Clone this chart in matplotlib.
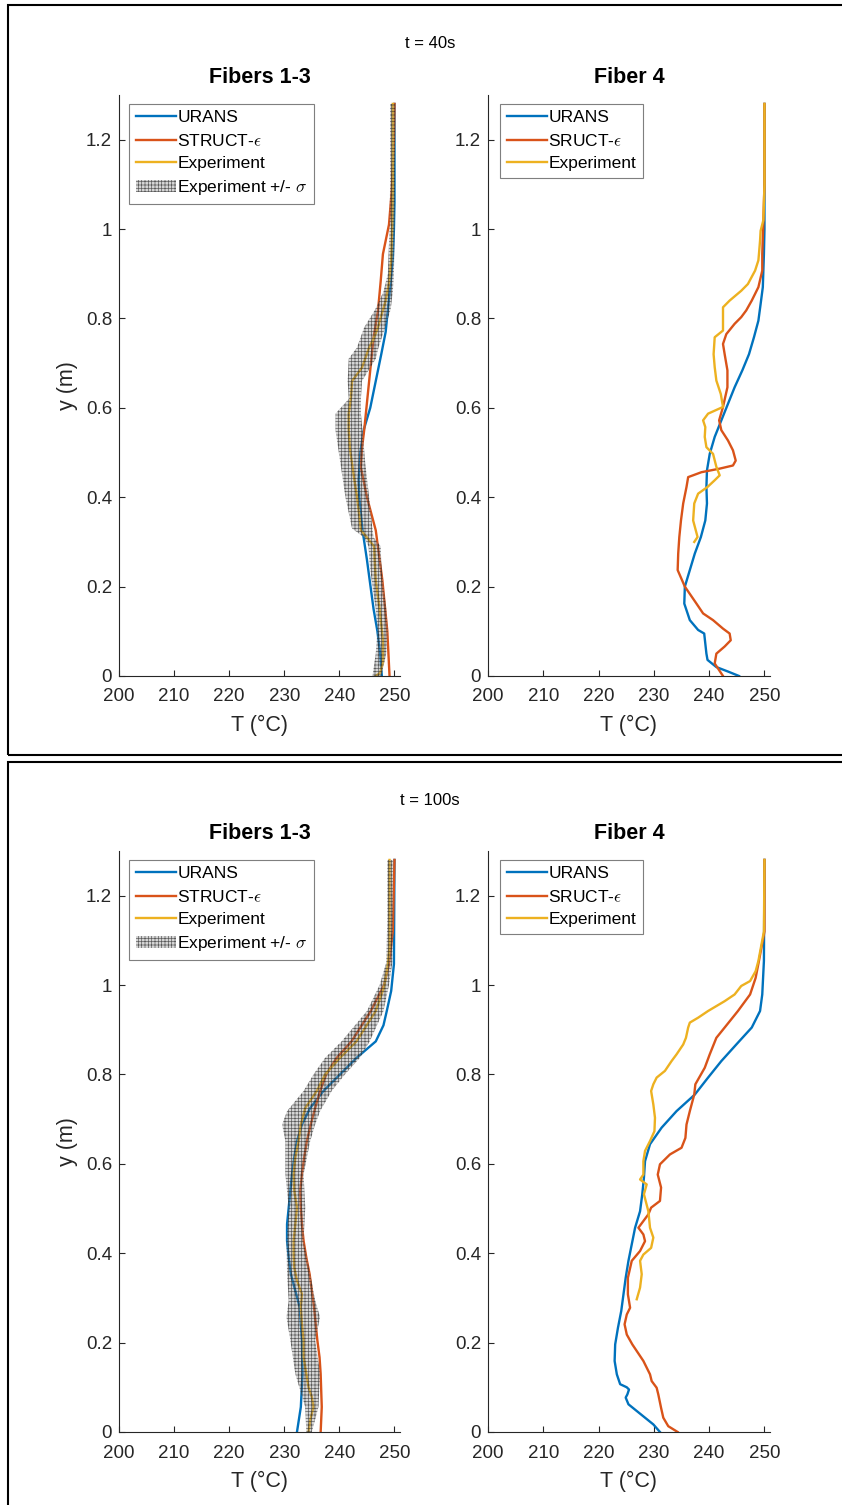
import numpy as np
import matplotlib
matplotlib.use("Agg")
import matplotlib.pyplot as plt
from matplotlib.patches import Rectangle, Patch
from matplotlib.lines import Line2D

plt.rcParams["font.family"] = ["Liberation Sans", "DejaVu Sans"]
plt.rcParams["mathtext.fontset"] = "cm"
plt.rcParams["hatch.linewidth"] = 0.5

BLUE, ORANGE, YELLOW = "#0072BD", "#D95319", "#EDB120"
AXC = "#262626"

# ---- t = 40 s, fibers 1-3 ----
Y_URANS_40A = [0.0, 0.05, 0.1, 0.15, 0.214, 0.26, 0.326, 0.40, 0.44, 0.5, 0.55, 0.6,
               0.66, 0.72, 0.77, 0.82, 0.88, 0.935, 1.0, 1.06, 1.28]
T_URANS_40A = [247.7, 247.4, 246.9, 246.2, 245.5, 245.0, 244.2, 243.6, 243.5, 243.8, 244.4, 245.6,
               246.6, 247.6, 248.4, 248.8, 249.3, 249.7, 249.9, 250.0, 250.0]
Y_STRUCT_40A = [0.0, 0.1, 0.214, 0.326, 0.40, 0.467, 0.51, 0.55, 0.66, 0.757, 0.817,
                0.884, 0.944, 1.01, 1.085, 1.2, 1.28]
T_STRUCT_40A = [249.1, 248.7, 247.8, 246.6, 245.0, 243.9, 244.1, 244.5, 245.4, 246.2, 247.0,
                247.5, 247.9, 249.0, 249.5, 249.9, 250.0]
Y_EXP_40A = [0.0, 0.007, 0.03, 0.08, 0.15, 0.214, 0.26, 0.29, 0.31, 0.326, 0.36, 0.40, 0.44,
             0.475, 0.51, 0.55, 0.587, 0.623, 0.66, 0.69, 0.735, 0.757, 0.78, 0.81, 0.84,
             0.88, 0.93, 1.01, 1.1, 1.2, 1.28]
T_EXP_40A = [246.6, 247.4, 247.9, 247.9, 247.3, 246.6, 246.4, 246.3, 245.0, 243.9, 243.6, 243.2,
             242.7, 242.3, 241.9, 241.7, 241.7, 242.1, 242.3, 244.1, 245.4, 246.3, 247.0, 247.7,
             248.4, 249.0, 249.4, 249.6, 249.7, 249.7, 249.7]
Y_BAND_40A = [0.0, 0.05, 0.1, 0.15, 0.2, 0.25, 0.29, 0.31, 0.33, 0.40, 0.475, 0.55, 0.587,
              0.62, 0.66, 0.71, 0.735, 0.78, 0.82, 0.86, 0.9, 1.0, 1.1, 1.2, 1.28]
LO_BAND_40A = [246.0, 246.6, 246.9, 246.6, 246.0, 245.5, 245.3, 244.5, 242.3, 241.1, 240.2, 239.3,
               239.3, 241.7, 241.5, 241.7, 243.2, 244.5, 246.5, 248.0, 248.8, 249.1, 249.2, 249.2, 249.2]
HI_BAND_40A = [247.6, 248.5, 248.8, 248.5, 248.0, 247.6, 247.5, 246.2, 246.0, 245.4, 244.7, 244.2,
               243.9, 243.9, 244.1, 246.6, 247.1, 248.3, 249.3, 249.7, 249.9, 250.0, 250.1, 250.1, 250.1]

# ---- t = 40 s, fiber 4 ----
Y_URANS_40B = [0.0, 0.01, 0.02, 0.036, 0.05, 0.095, 0.103, 0.125, 0.162, 0.2, 0.237, 0.274,
               0.311, 0.348, 0.386, 0.423, 0.46, 0.497, 0.535, 0.572, 0.609, 0.646, 0.684,
               0.72, 0.758, 0.795, 0.832, 0.87, 0.944, 1.0, 1.28]
T_URANS_40B = [245.4, 243.4, 241.3, 239.7, 239.5, 239.1, 238.0, 236.5, 235.5, 235.6, 236.5, 237.4,
               238.5, 239.3, 239.6, 239.5, 239.6, 240.1, 241.0, 242.2, 243.4, 244.6, 246.0,
               247.2, 248.1, 248.9, 249.3, 249.7, 249.9, 250.0, 250.0]
Y_STRUCT_40B = [0.0, 0.028, 0.05, 0.066, 0.08, 0.095, 0.106, 0.125, 0.14, 0.162, 0.2, 0.237,
                0.274, 0.311, 0.348, 0.386, 0.423, 0.445, 0.456, 0.464, 0.471, 0.482, 0.505,
                0.527, 0.55, 0.572, 0.602, 0.646, 0.684, 0.72, 0.743, 0.765, 0.788, 0.803,
                0.818, 0.84, 0.87, 0.907, 0.944, 0.981, 1.019, 1.1, 1.28]
T_STRUCT_40B = [242.5, 241.0, 241.3, 242.8, 243.9, 243.7, 242.5, 240.7, 238.9, 237.7, 235.6, 234.3,
                234.4, 234.6, 234.9, 235.3, 235.9, 236.2, 238.6, 241.9, 244.3, 244.8, 244.3,
                243.4, 242.2, 241.8, 242.5, 243.3, 243.3, 242.8, 242.5, 243.1, 244.6, 245.8,
                246.7, 247.7, 248.9, 249.6, 249.6, 249.7, 249.8, 250.0, 250.0]
Y_EXP_40B = [0.3, 0.311, 0.348, 0.386, 0.408, 0.423, 0.438, 0.449, 0.468, 0.497, 0.512, 0.535,
             0.557, 0.572, 0.587, 0.602, 0.631, 0.661, 0.691, 0.72, 0.758, 0.773, 0.795, 0.825,
             0.84, 0.862, 0.877, 0.907, 0.93, 0.944, 0.974, 0.996, 1.02, 1.1, 1.28]
T_EXP_40B = [237.3, 237.9, 237.1, 237.3, 238.0, 239.7, 241.0, 241.9, 241.3, 240.7, 239.5, 239.2,
             239.3, 238.9, 239.8, 242.5, 242.1, 241.3, 241.0, 240.8, 241.0, 242.5, 242.5, 242.5,
             243.7, 245.8, 247.0, 248.3, 248.9, 249.0, 249.2, 249.3, 249.8, 250.0, 250.0]

# ---- t = 100 s, fibers 1-3 ----
Y_URANS_100A = [0.0, 0.056, 0.13, 0.205, 0.279, 0.316, 0.353, 0.39, 0.428, 0.465, 0.502, 0.54,
                0.577, 0.614, 0.651, 0.688, 0.725, 0.763, 0.8, 0.837, 0.874, 0.91, 0.942,
                0.987, 1.047, 1.28]
T_URANS_100A = [232.3, 233.0, 233.3, 233.2, 232.8, 232.0, 231.2, 230.8, 230.5, 230.5, 230.8, 231.1,
                231.4, 231.8, 232.3, 233.2, 234.7, 237.1, 240.1, 243.1, 246.6, 248.0, 248.6,
                249.4, 249.9, 250.0]
Y_STRUCT_100A = [0.0, 0.056, 0.13, 0.167, 0.205, 0.279, 0.353, 0.39, 0.428, 0.465, 0.502, 0.54,
                 0.577, 0.614, 0.651, 0.688, 0.725, 0.763, 0.8, 0.837, 0.874, 0.942, 1.0,
                 1.047, 1.12, 1.28]
T_STRUCT_100A = [236.6, 236.8, 236.6, 236.4, 236.0, 235.4, 234.6, 234.0, 233.5, 233.2, 233.0, 232.9,
                 233.2, 233.6, 234.1, 234.8, 235.6, 236.5, 237.6, 239.5, 242.2, 245.7, 248.1,
                 249.0, 249.7, 250.0]
Y_EXP_100A = [0.0, 0.026, 0.056, 0.078, 0.1, 0.13, 0.167, 0.205, 0.242, 0.279, 0.309, 0.339,
              0.368, 0.398, 0.428, 0.465, 0.502, 0.54, 0.577, 0.614, 0.651, 0.688, 0.725,
              0.763, 0.8, 0.837, 0.874, 0.942, 0.995, 1.047, 1.085, 1.28]
T_EXP_100A = [234.4, 234.7, 235.3, 235.0, 234.4, 234.0, 233.5, 233.5, 233.2, 233.0, 233.2, 232.3,
              231.8, 231.7, 231.7, 232.0, 232.3, 231.8, 231.7, 232.0, 232.6, 233.0, 233.8,
              235.9, 237.4, 240.1, 243.1, 246.6, 248.1, 248.8, 249.1, 249.1]
Y_BAND_100A = [0.0, 0.056, 0.13, 0.205, 0.257, 0.294, 0.353, 0.428, 0.502, 0.577, 0.651, 0.688,
               0.718, 0.763, 0.8, 0.837, 0.874, 0.942, 1.0, 1.05, 1.15, 1.28]
LO_BAND_100A = [234.0, 233.8, 232.0, 231.1, 230.4, 230.8, 230.5, 230.4, 230.8, 230.2, 230.2, 229.6,
                230.5, 233.5, 235.3, 237.4, 240.4, 245.0, 247.3, 248.5, 248.7, 248.7]
HI_BAND_100A = [235.0, 236.2, 236.5, 235.6, 236.5, 235.6, 234.7, 233.5, 233.8, 233.5, 234.7, 235.6,
                236.5, 238.6, 241.0, 243.7, 245.5, 248.0, 249.0, 249.6, 249.7, 249.7]

# ---- t = 100 s, fiber 4 ----
Y_URANS_100B = [0.0, 0.017, 0.032, 0.047, 0.062, 0.077, 0.084, 0.095, 0.1, 0.107, 0.129, 0.159,
                0.196, 0.233, 0.271, 0.308, 0.345, 0.383, 0.42, 0.457, 0.494, 0.532, 0.569,
                0.606, 0.644, 0.681, 0.718, 0.755, 0.793, 0.83, 0.867, 0.905, 0.942, 0.979,
                1.054, 1.28]
T_URANS_100B = [231.1, 229.9, 228.4, 226.9, 225.4, 224.9, 225.2, 225.5, 225.1, 223.9, 223.3, 222.9,
                223.0, 223.5, 224.1, 224.5, 224.9, 225.4, 226.0, 226.6, 227.5, 227.9, 228.2,
                228.4, 229.3, 231.4, 234.1, 237.4, 239.8, 242.2, 244.9, 247.7, 249.2, 249.6,
                249.9, 250.0]
Y_STRUCT_100B = [0.0, 0.013, 0.032, 0.054, 0.084, 0.099, 0.114, 0.129, 0.159, 0.196, 0.218, 0.241,
                 0.263, 0.278, 0.308, 0.345, 0.383, 0.405, 0.427, 0.442, 0.457, 0.472, 0.487,
                 0.502, 0.517, 0.547, 0.576, 0.599, 0.621, 0.636, 0.658, 0.688, 0.718, 0.755,
                 0.778, 0.815, 0.845, 0.882, 0.905, 0.942, 0.979, 1.016, 1.054, 1.12, 1.28]
T_STRUCT_100B = [234.3, 232.6, 231.7, 231.3, 230.8, 230.5, 229.6, 229.3, 228.1, 226.1, 225.1, 224.7,
                 225.1, 225.7, 225.3, 225.3, 226.0, 227.5, 228.4, 228.1, 227.2, 228.1, 229.0,
                 229.5, 231.1, 231.3, 230.7, 231.1, 232.9, 235.0, 235.7, 235.9, 236.5, 237.3,
                 237.5, 239.2, 240.1, 241.3, 242.8, 245.2, 247.4, 248.4, 249.0, 250.0, 250.0]
Y_EXP_100B = [0.297, 0.323, 0.353, 0.383, 0.397, 0.412, 0.435, 0.457, 0.494, 0.532, 0.554, 0.565,
              0.576, 0.606, 0.629, 0.651, 0.673, 0.703, 0.733, 0.763, 0.778, 0.793, 0.808,
              0.83, 0.845, 0.867, 0.882, 0.905, 0.916, 0.927, 0.942, 0.964, 0.979, 0.998,
              1.009, 1.031, 1.054, 1.12, 1.28]
T_EXP_100B = [226.9, 227.5, 227.8, 227.5, 228.1, 229.5, 229.9, 229.3, 229.0, 228.2, 228.7, 227.5,
              228.1, 228.1, 228.4, 229.3, 230.1, 230.2, 229.9, 229.5, 229.9, 230.5, 232.0,
              233.2, 234.1, 235.3, 235.8, 236.2, 236.5, 238.0, 239.8, 242.8, 244.6, 245.8,
              247.4, 248.4, 248.9, 249.9, 250.0]

X_TICKS = [200, 210, 220, 230, 240, 250]
Y_TICKS = [0, 0.2, 0.4, 0.6, 0.8, 1.0, 1.2]
Y_TICKLABELS = ["0", "0.2", "0.4", "0.6", "0.8", "1", "1.2"]

W, H = 842, 1505
fig = plt.figure(figsize=(W / 100, H / 100), dpi=100)


def frac(x0, y0, x1, y1):
    # pixel box -> figure fraction [left, bottom, width, height]
    return [x0 / W, 1 - y1 / H, (x1 - x0) / W, (y1 - y0) / H]


def style_axes(ax, title, show_ylabel):
    ax.set_xlim(200, 251)
    ax.set_ylim(0, 1.3)
    ax.set_xticks(X_TICKS)
    ax.set_yticks(Y_TICKS)
    ax.set_yticklabels(Y_TICKLABELS)
    for s in ("top", "right"):
        ax.spines[s].set_visible(False)
    for s in ("left", "bottom"):
        ax.spines[s].set_color(AXC)
        ax.spines[s].set_linewidth(0.8)
    ax.tick_params(direction="in", length=4, width=0.8, color=AXC, labelcolor=AXC,
                   labelsize=13.5)
    ax.tick_params(axis="x", pad=9)
    ax.tick_params(axis="y", pad=5)
    ax.set_xlabel("T (°C)", fontsize=15.5, color=AXC, va="center")
    ax.xaxis.set_label_coords(0.5, -49 / 581)
    if show_ylabel:
        ax.set_ylabel("y (m)", fontsize=15.5, color=AXC, va="center")
        ax.yaxis.set_label_coords(-51 / 281, 0.5)
    ax.text(0.5, 1 + 17 / 581, title, transform=ax.transAxes, ha="center", va="center",
            fontsize=15.5, fontweight="bold", color="black")


def draw(ax, urans, struct, exp, band, struct_label, anchor_x):
    ax.plot(urans[1], urans[0], color=BLUE, lw=1.7, zorder=2)
    ax.plot(struct[1], struct[0], color=ORANGE, lw=1.7, zorder=2)
    ax.plot(exp[1], exp[0], color=YELLOW, lw=1.7, zorder=2)
    handles = [Line2D([], [], color=BLUE, lw=1.7),
               Line2D([], [], color=ORANGE, lw=1.7),
               Line2D([], [], color=YELLOW, lw=1.7)]
    labels = ["URANS", struct_label, "Experiment"]
    if band is not None:
        ax.fill_betweenx(band[0], band[1], band[2], facecolor=(0.55, 0.55, 0.55, 0.35),
                         edgecolor=(0.1, 0.1, 0.1, 0.65), hatch="+++++", linewidth=0, zorder=3)
        handles.append(Patch(facecolor=(0.55, 0.55, 0.55, 0.35),
                             edgecolor=(0.1, 0.1, 0.1, 0.65), hatch="+++++", linewidth=0))
        labels.append(r"Experiment +/- $\sigma$")
    leg = ax.legend(handles, labels, loc="upper left", bbox_to_anchor=(anchor_x, 0.985),
                    fontsize=12.5, handlelength=2.3, handletextpad=0.1, labelspacing=0.42,
                    borderpad=0.38, borderaxespad=0, fancybox=False, framealpha=1)
    leg.get_frame().set_edgecolor("#7f7f7f")
    leg.get_frame().set_linewidth(0.8)


panels = [
    (95, 676, "t = 40s", 44,
     (Y_URANS_40A, T_URANS_40A), (Y_STRUCT_40A, T_STRUCT_40A), (Y_EXP_40A, T_EXP_40A),
     (Y_BAND_40A, LO_BAND_40A, HI_BAND_40A),
     (Y_URANS_40B, T_URANS_40B), (Y_STRUCT_40B, T_STRUCT_40B), (Y_EXP_40B, T_EXP_40B)),
    (851, 1432, "t = 100s", 800,
     (Y_URANS_100A, T_URANS_100A), (Y_STRUCT_100A, T_STRUCT_100A), (Y_EXP_100A, T_EXP_100A),
     (Y_BAND_100A, LO_BAND_100A, HI_BAND_100A),
     (Y_URANS_100B, T_URANS_100B), (Y_STRUCT_100B, T_STRUCT_100B), (Y_EXP_100B, T_EXP_100B)),
]

for top, bot, ttl, ty, ua, sa, ea, ba, ub, sb, eb in panels:
    axl = fig.add_axes(frac(119, top, 400, bot))
    draw(axl, ua, sa, ea, ba, r"STRUCT-$\epsilon$", 10 / 281)
    style_axes(axl, "Fibers 1-3", True)
    axr = fig.add_axes(frac(488, top, 770, bot))
    draw(axr, ub, sb, eb, None, r"SRUCT-$\epsilon$", 12 / 282)
    style_axes(axr, "Fiber 4", False)
    fig.text(430 / W, 1 - ty / H, ttl, ha="center", va="center", fontsize=12, color="black")

# outer frames around each time step
for y0, y1 in [(5, 755), (762, 1520)]:
    fig.patches.append(Rectangle((8 / W, 1 - y1 / H), 1.0, (y1 - y0) / H, transform=fig.transFigure,
                                 fill=False, edgecolor="black", linewidth=1.5, zorder=10))

fig.savefig("out.png", dpi=100)
